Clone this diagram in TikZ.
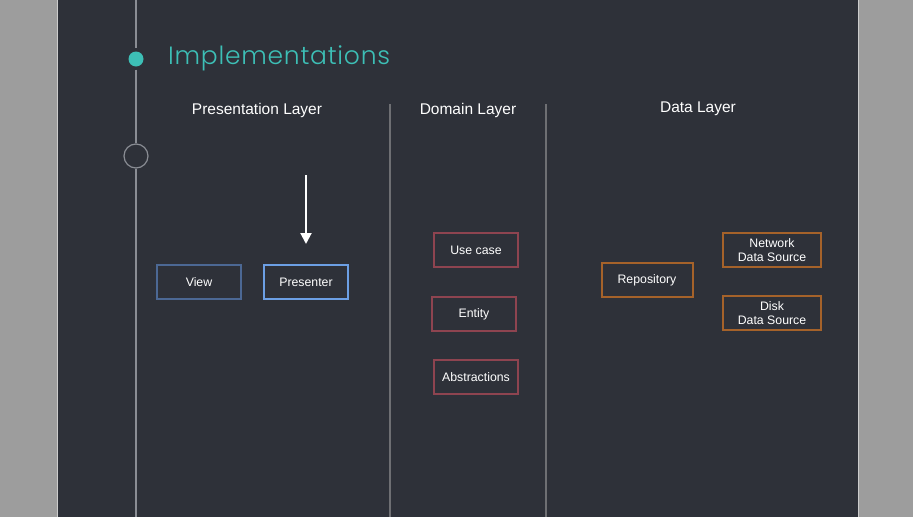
\documentclass[tikz,border=0pt]{standalone}
\usepackage{fontspec}
\setmainfont{Liberation Sans}
\newfontfamily\titlefont{Poppins}[UprightFont=* Light, LetterSpace=3]
\usetikzlibrary{arrows.meta}
\definecolor{pagegray}{HTML}{9D9D9D}
\definecolor{panel}{HTML}{2E3139}
\definecolor{rail}{HTML}{8A8D94}
\definecolor{teal}{HTML}{3DBFB6}
\definecolor{sepgray}{HTML}{6E6F73}
\definecolor{viewblue}{HTML}{4C6894}
\definecolor{presblue}{HTML}{6C9FE4}
\definecolor{domred}{HTML}{8E4450}
\definecolor{dataorange}{HTML}{A5622A}
\tikzset{
  layer/.style={text=white, font=\fontsize{15.5}{18}\selectfont},
  box/.style={draw, line width=2pt, minimum width=84pt, minimum height=34pt,
    text=white, align=center, font=\fontsize{12.3}{14}\selectfont},
}
\begin{document}
\begin{tikzpicture}[x=1pt,y=-1pt]
  \useasboundingbox (0,0) rectangle (913,517);
  \fill[pagegray] (0,0) rectangle (913,517);
  \fill[panel] (57,0) rectangle (858,517);
  \draw[white!80!black, line width=1pt] (57,0) -- (57,517) (858,0) -- (858,517);
  % timeline
  \coordinate (railtop) at (136,0);
  \coordinate (railbot) at (136,517);
  \node[circle, fill=teal, inner sep=0pt, minimum size=15pt] (dot) at (136,59) {};
  \node[circle, draw=rail, line width=1.2pt, inner sep=0pt, minimum size=24pt] (ring) at (136,156) {};
  \begin{scope}[rail, line width=1.4pt]
    \draw (railtop) -- ([yshift=3pt]dot.north);
    \draw ([yshift=-3pt]dot.south) -- (ring.north);
    \draw (ring.south) -- (railbot);
  \end{scope}
  \node[anchor=base west, text=teal, font=\titlefont\fontsize{25}{30}\selectfont, inner sep=0pt] (title) at (168,64) {Implementations};
  % layers
  \draw
    (257,110) node[layer] (pres){Presentation Layer}
    (468,110) node[layer] (dom){Domain Layer}
    (698,109) node[layer] (data){Data Layer};
  \begin{scope}[sepgray, line width=2.5pt]
    \draw (390,104) -- (390,517);
    \draw (546,104) -- (546,517);
  \end{scope}
  % boxes
  \draw
    (199,282) node[box, draw=viewblue] (view){View}
    (306,282) node[box, draw=presblue] (presenter){Presenter}
    (476,250) node[box, draw=domred] (usecase){Use case}
    (474,314) node[box, draw=domred] (entity){Entity}
    (476,377) node[box, draw=domred] (abstr){Abstractions}
    (647,280) node[box, draw=dataorange, minimum width=91pt] (repo){Repository}
    (772,250) node[box, draw=dataorange, minimum width=98pt] (network){Network\\Data Source}
    (772,313) node[box, draw=dataorange, minimum width=98pt] (disk){Disk\\Data Source};
  \coordinate (arrowtop) at (306,175);
  \draw[white, line width=2pt, -{Triangle[width=11pt,length=11pt]}] (arrowtop) -- ([yshift=20pt]presenter.north);
\end{tikzpicture}
\end{document}
